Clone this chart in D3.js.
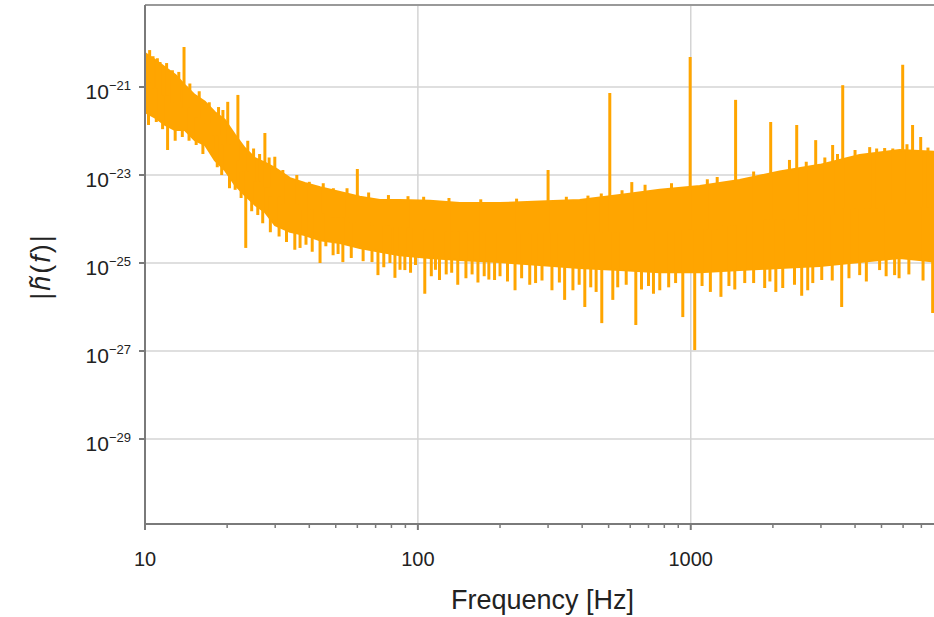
<!DOCTYPE html>
<html>
<head>
<meta charset="utf-8">
<script src="https://cdn.jsdelivr.net/npm/d3@7"></script>
<style>
  body { margin: 0; background: #fff; }
  text { font-family: "Liberation Sans", Arial, sans-serif; fill: #222; }
</style>
</head>
<body>
<div id="chart"></div>
<script>
// band of the noise floor (Hz, strain)
const bandFreqs = [10, 10.9, 11.8, 12.9, 14.0, 15.2, 16.6, 18.0, 19.6, 21.4, 23.2, 25.3, 27.5, 29.9,
    34.0, 38.5, 43.8, 51.8, 61.3, 72.6, 85.9, 110.6, 142.5, 199.6, 280, 392, 550, 770, 1079, 1511,
    2118, 2970, 4160, 5830, 8192];
const bandTop = [5.9e-21, 4.1e-21, 2.85e-21, 1.9e-21, 1.1e-21, 6.6e-22, 4.6e-22, 2.7e-22, 1.8e-22, 8.1e-23,
    4.1e-23, 2.4e-23, 1.9e-23, 1.45e-23, 8.5e-24, 6.6e-24, 5.3e-24, 4.1e-24, 3.2e-24, 2.7e-24,
    2.7e-24, 2.6e-24, 2.3e-24, 2.3e-24, 2.5e-24, 2.7e-24, 3.5e-24, 4.6e-24, 5.6e-24, 7.7e-24,
    1.2e-23, 1.7e-23, 2.85e-23, 3.7e-23, 3.3e-23];
const bandBottom = [2.7e-22, 2.0e-22, 1.4e-22, 1.05e-22, 1.05e-22, 6.2e-23, 4.8e-23, 2.2e-23, 1.3e-23, 5.9e-24,
    3.5e-24, 2.1e-24, 1.45e-24, 7.3e-25, 5.1e-25, 4.3e-25, 3.3e-25, 2.85e-25, 2.2e-25, 1.8e-25,
    1.5e-25, 1.3e-25, 1.17e-25, 1.05e-25, 9.0e-26, 7.7e-26, 6.9e-26, 6.2e-26, 6.2e-26, 6.9e-26,
    7.7e-26, 8.5e-26, 1.05e-25, 1.3e-25, 1.05e-25];

// spectral lines sticking up out of the band
const peakFreqs = [10.4, 11.35, 12.6, 13.9, 20.1, 21.9, 27.5, 29.9, 60, 300, 505, 608, 995, 1460, 1963,
    2300, 2445, 2870, 3311, 3605, 4000, 4526, 5135, 5980, 6500, 6960];
const peakValues = [6.9e-21, 3.7e-21, 2.4e-21, 8.1e-21, 4.6e-22, 6.6e-22, 9.0e-23, 2.6e-23, 1.37e-23, 1.3e-23,
    7.3e-22, 6.9e-24, 4.8e-21, 5.1e-22, 1.6e-22, 2.2e-23, 1.37e-22, 6.2e-23, 4.8e-23, 1.1e-21,
    3.7e-23, 4.3e-23, 4.1e-23, 3.2e-21, 1.37e-22, 7.3e-23];

// deep dips below the band
const dipFreqs = [10.3, 12.1, 13.7, 15.4, 17.7, 19.1, 21.4, 23.4, 25.9, 35.4, 38.9, 43.8, 48.9, 53.1, 67.9,
    71.4, 82.4, 89.6, 106, 120, 140, 166, 191, 227, 257, 310, 345, 370, 409, 472, 518, 629, 770,
    935, 1034, 1290, 1577, 1866, 2173, 2683, 3020, 3573, 4160, 4921, 5585, 7700];
const dipValues = [1.37e-22, 3.7e-23, 7.3e-23, 4.8e-23, 3.7e-23, 1e-23, 4.6e-24, 2.2e-25, 1.23e-24, 2.0e-25,
    2.6e-25, 1e-25, 1.5e-25, 1.05e-25, 1.05e-25, 5.3e-26, 4.6e-26, 6.9e-26, 2.0e-26, 4.1e-26,
    3.2e-26, 3.6e-26, 4.1e-26, 2.4e-26, 3.2e-26, 2.4e-26, 1.45e-26, 2.4e-26, 1e-26, 4.3e-27,
    1.45e-26, 3.9e-27, 2.4e-26, 5.9e-27, 1.05e-27, 1.7e-26, 3.5e-26, 2.7e-26, 2.7e-26, 2.4e-26,
    4.1e-26, 1e-26, 5.3e-26, 6.9e-26, 5.3e-26, 7.3e-27];

// small jitter along the upper edge
const edgePeakFreqs = [10.7, 11.1, 12.0, 13.3, 14.6, 15.8, 17.2, 18.6, 19.3, 23.8, 25.0, 26.3, 28.5, 32, 36,
    40, 45, 49, 55, 66, 78, 92, 105, 130, 170, 230, 350, 420, 470, 560, 680, 850, 1150, 1250,
    1700, 2650, 3100, 3450, 4800, 5500, 6200, 7400];
const edgePeakValues = [5e-21, 4.5e-21, 3.5e-21, 2.2e-21, 1.2e-21, 8e-22, 4.5e-22, 3.5e-22, 3e-22, 6e-23,
    4e-23, 3e-23, 2.5e-23, 1.3e-23, 1e-23, 7e-24, 6.5e-24, 5e-24, 5e-24, 4e-24, 3.5e-24, 3.3e-24,
    3.2e-24, 3e-24, 2.8e-24, 2.9e-24, 3.2e-24, 3.4e-24, 3.8e-24, 4.5e-24, 6e-24, 6.5e-24, 8e-24,
    9e-24, 1.2e-23, 2e-23, 2.5e-23, 3e-23, 4e-23, 4e-23, 5e-23, 4.2e-23];

// smaller dips along the lower edge
const edgeDipFreqs = [11.0, 11.6, 12.9, 14.5, 16.3, 18.4, 20.4, 22.5, 24.6, 27, 28.8, 31, 33, 37, 41, 46,
    51, 57, 63, 75, 79, 86, 94, 98, 112, 116, 127, 133, 150, 158, 175, 182, 200, 213, 240, 270,
    285, 330, 390, 430, 450, 540, 580, 660, 700, 730, 830, 880, 1100, 1180, 1380, 1450, 1700,
    1950, 2050, 2400, 2550, 2800, 3300, 3800, 4400, 5200, 5800, 6300, 7100, 8000];
const edgeDipValues = [1.6e-22, 1.1e-22, 6e-23, 6e-23, 3e-23, 1.5e-23, 5e-24, 3e-24, 1.5e-24, 8e-25, 5e-25,
    4e-25, 3e-25, 2.2e-25, 1.8e-25, 2.4e-25, 1.6e-25, 1.3e-25, 1.1e-25, 8e-26, 1e-25, 7e-26, 6e-26,
    9e-26, 5e-26, 7e-26, 5.5e-26, 6e-26, 4.5e-26, 5.5e-26, 5e-26, 4.2e-26, 5e-26, 3.8e-26, 4.5e-26,
    3.5e-26, 4e-26, 3.6e-26, 3.2e-26, 2.8e-26, 2.2e-26, 2.8e-26, 3.2e-26, 2.5e-26, 3e-26, 2e-26,
    2.8e-26, 3.5e-26, 3e-26, 2.2e-26, 3e-26, 2.5e-26, 3.5e-26, 3.8e-26, 2.2e-26, 3.2e-26, 1.8e-26,
    3.5e-26, 4e-26, 4.5e-26, 3.8e-26, 5e-26, 4.5e-26, 5.5e-26, 4e-26, 3e-26];

const yTicks = [1e-21, 1e-23, 1e-25, 1e-27, 1e-29];
const yTickLabels = ["\u221221", "\u221223", "\u221225", "\u221227", "\u221229"];
const xTicks = [10, 100, 1000];
const xMinor = [20, 30, 40, 50, 60, 70, 80, 90, 200, 300, 400, 500, 600, 700, 800, 900,
    2000, 3000, 4000, 5000, 6000, 7000, 8000];

const W = 934, H = 617;
const margin = { top: 5, left: 145, bottom: 93 };
const plotH = H - margin.top - margin.bottom;
const plotW = 795;
const orange = "#ffa500";

const svg = d3.select("#chart").append("svg")
    .attr("width", W)
    .attr("height", H);

const x = d3.scaleLog().domain([10, 8192]).range([margin.left, margin.left + plotW]);
const y = d3.scaleLog().domain([1.17e-31, 7.3e-20]).range([margin.top + plotH, margin.top]);

svg.append("clipPath").attr("id", "clip")
  .append("rect")
    .attr("x", margin.left).attr("y", margin.top)
    .attr("width", plotW).attr("height", plotH);

// grid
const grid = svg.append("g");
grid.selectAll(".gy").data(yTicks).enter().append("line")
    .attr("x1", margin.left).attr("x2", margin.left + plotW)
    .attr("y1", d => y(d)).attr("y2", d => y(d))
    .attr("stroke", "#d4d4d4").attr("stroke-width", 1.5);
grid.selectAll(".gx").data(xTicks).enter().append("line")
    .attr("x1", d => x(d)).attr("x2", d => x(d))
    .attr("y1", margin.top).attr("y2", margin.top + plotH)
    .attr("stroke", "#d4d4d4").attr("stroke-width", 1.5);

const band = bandFreqs.map((f, i) => ({ f: f, hi: bandTop[i], lo: bandBottom[i] }));
const logF = bandFreqs.map(Math.log10);
const near = f => band[d3.bisectCenter(logF, Math.log10(f))];
const mid = f => Math.sqrt(near(f).hi * near(f).lo);

const plot = svg.append("g").attr("clip-path", "url(#clip)");

const area = d3.area()
    .x(d => x(d.f))
    .y0(d => y(d.lo))
    .y1(d => y(d.hi));

plot.append("path")
    .datum(band)
    .attr("d", area)
    .attr("fill", orange)
    .attr("stroke", orange)
    .attr("stroke-width", 2)
    .attr("stroke-linejoin", "round");

function spikes(freqs, values, width) {
    const data = freqs.map((f, i) => ({ f: f, v: values[i] }));
    plot.append("g").selectAll("line").data(data).enter().append("line")
        .attr("x1", d => x(d.f)).attr("x2", d => x(d.f))
        .attr("y1", d => y(d.v))
        .attr("y2", d => y(mid(d.f)))
        .attr("stroke", orange)
        .attr("stroke-width", width);
}
spikes(edgePeakFreqs, edgePeakValues, 3);
spikes(edgeDipFreqs, edgeDipValues, 3);
spikes(peakFreqs, peakValues, 3);
spikes(dipFreqs, dipValues, 3);

// spines
const spine = "#7a7a7a";
svg.append("line").attr("x1", margin.left).attr("x2", W)
    .attr("y1", margin.top).attr("y2", margin.top)
    .attr("stroke", "#999").attr("stroke-width", 2);
svg.append("line").attr("x1", margin.left).attr("x2", margin.left)
    .attr("y1", margin.top).attr("y2", margin.top + plotH)
    .attr("stroke", spine).attr("stroke-width", 2);
svg.append("line").attr("x1", margin.left).attr("x2", W)
    .attr("y1", margin.top + plotH).attr("y2", margin.top + plotH)
    .attr("stroke", spine).attr("stroke-width", 2);

// y ticks
const yAxis = svg.append("g");
yAxis.selectAll(".yt").data(yTicks).enter().append("line")
    .attr("x1", margin.left - 6).attr("x2", margin.left)
    .attr("y1", d => y(d)).attr("y2", d => y(d))
    .attr("stroke", spine).attr("stroke-width", 2);
const yl = yAxis.selectAll(".yl").data(yTicks).enter().append("text")
    .attr("x", margin.left - 14)
    .attr("y", d => y(d) + 12)
    .attr("text-anchor", "end");
yl.append("tspan").attr("font-size", 21).text("10");
yl.append("tspan").attr("font-size", 13).attr("dy", -9)
    .text((d, i) => yTickLabels[i]);

// x ticks
const xAxis = svg.append("g");
xAxis.selectAll(".xt").data(xTicks).enter().append("line")
    .attr("x1", d => x(d)).attr("x2", d => x(d))
    .attr("y1", margin.top + plotH).attr("y2", margin.top + plotH + 6)
    .attr("stroke", spine).attr("stroke-width", 2);
xAxis.selectAll(".xm").data(xMinor).enter().append("line")
    .attr("x1", d => x(d)).attr("x2", d => x(d))
    .attr("y1", margin.top + plotH).attr("y2", margin.top + plotH + 4)
    .attr("stroke", spine).attr("stroke-width", 1.5);
xAxis.selectAll(".xl").data(xTicks).enter().append("text")
    .attr("x", d => x(d))
    .attr("y", 566)
    .attr("text-anchor", "middle")
    .attr("font-size", 20)
    .text(d => d);

// axis labels
svg.append("text")
    .attr("x", margin.left + plotW / 2)
    .attr("y", 609)
    .attr("text-anchor", "middle")
    .attr("font-size", 27)
    .text("Frequency [Hz]");

const ylab = svg.append("text")
    .attr("transform", "translate(50," + (margin.top + plotH / 2 + 2) + ") rotate(-90)")
    .attr("text-anchor", "middle")
    .attr("font-size", 27)
    .attr("letter-spacing", 2);
ylab.append("tspan").text("|");
ylab.append("tspan").attr("font-style", "italic").text("h\u0303");
ylab.append("tspan").text("(");
ylab.append("tspan").attr("font-style", "italic").text("f");
ylab.append("tspan").text(")|");
</script>
</body>
</html>
